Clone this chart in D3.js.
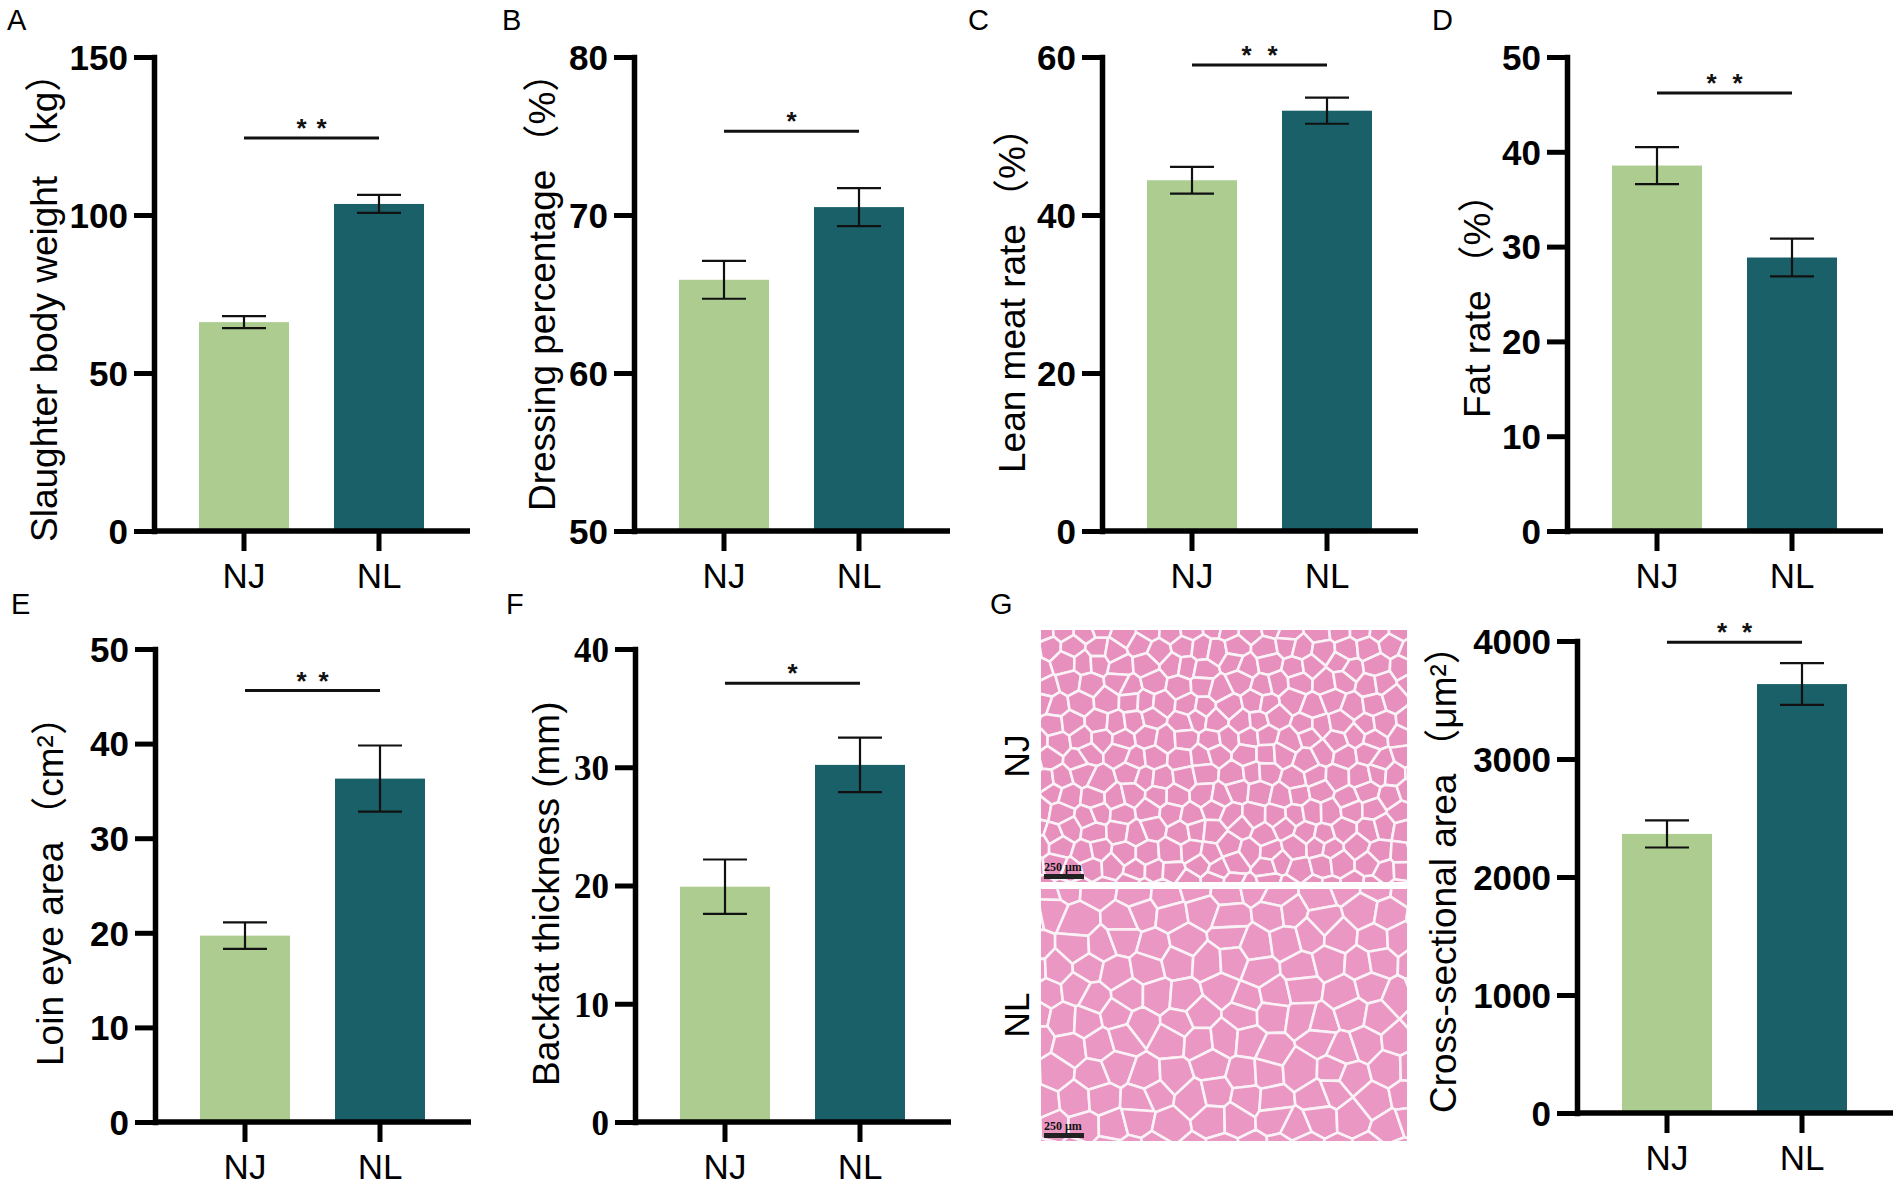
<!DOCTYPE html>
<html><head><meta charset="utf-8">
<script src="https://cdn.jsdelivr.net/npm/d3@7/dist/d3.min.js"></script>
<style>body{margin:0;background:#fff} svg{display:block}</style>
</head><body>
<svg id="fig" width="1902" height="1187"></svg>
<script>
// ---------------- data ----------------
const groups = ["NJ", "NL"];
const barColors = ["#ADCD90", "#1A6069"];

const slaughterMean = [66.1, 103.5], slaughterErr = [1.9, 2.85];
const dressingMean  = [65.9, 70.5],  dressingErr  = [1.2, 1.2];
const leanMean      = [44.4, 53.2],  leanErr      = [1.7, 1.65];
const fatMean       = [38.55, 28.85], fatErr      = [1.95, 2.0];
const loinMean      = [19.7, 36.3],  loinErr      = [1.4, 3.5];
const backfatMean   = [19.9, 30.2],  backfatErr   = [2.3, 2.3];
const csaMean       = [2365, 3635],  csaErr       = [115, 177];

const ticksA = [0, 50, 100, 150];
const ticksB = [50, 60, 70, 80];
const ticksC = [0, 20, 40, 60];
const ticksD = [0, 10, 20, 30, 40, 50];
const ticksE = [0, 10, 20, 30, 40, 50];
const ticksF = [0, 10, 20, 30, 40];
const ticksG = [0, 1000, 2000, 3000, 4000];

const sigLabels = ["**", "*", "**", "**", "**", "*", "**"];
const sigLevels = [124.4, 75.3, 59.0, 46.2, 45.6, 37.1, 3990];

const titleWords = [
  "Slaughter body weight",
  "Dressing percentage",
  "Lean meat rate",
  "Fat rate",
  "Loin eye area",
  "Backfat thickness (mm)",
  "Cross-sectional area"
];
const titleUnits = ["kg", "%", "%", "%", "cm²", null, "μm²"];

// ---------------- layout ----------------
const svg = d3.select("#fig");
const SANS = "'Liberation Sans', Arial, sans-serif";
const CJK = "'Noto Sans CJK JP', 'Noto Sans CJK SC', sans-serif";
const SERIF = "'Liberation Serif', 'Times New Roman', serif";

const panels = [
  {letter:"A", lx:7,   ly:30,  mean:slaughterMean, err:slaughterErr, domain:[0,150], ticks:ticksA, ax:154,  top:57,  bottom:531,  tx:57,   ts:542,  tickFont:SANS, gap:20},
  {letter:"B", lx:502, ly:30,  mean:dressingMean,  err:dressingErr,  domain:[50,80], ticks:ticksB, ax:634,  top:57,  bottom:531,  tx:555,  ts:511,  tickFont:SANS, gap:20},
  {letter:"C", lx:968, ly:30,  mean:leanMean,      err:leanErr,      domain:[0,60],  ticks:ticksC, ax:1102, top:57,  bottom:531,  tx:1025, ts:473,  tickFont:SANS, gap:26},
  {letter:"D", lx:1432,ly:30,  mean:fatMean,       err:fatErr,       domain:[0,50],  ticks:ticksD, ax:1567, top:57,  bottom:531,  tx:1490, ts:418,  tickFont:SANS, gap:26},
  {letter:"E", lx:11,  ly:614, mean:loinMean,      err:loinErr,      domain:[0,50],  ticks:ticksE, ax:155,  top:649, bottom:1122, tx:63,   ts:1066, tickFont:SANS, gap:22},
  {letter:"F", lx:506, ly:614, mean:backfatMean,   err:backfatErr,   domain:[0,40],  ticks:ticksF, ax:635,  top:649, bottom:1122, tx:559,  ts:1086, tickFont:SERIF, gap:20},
  {letter:null,lx:0,   ly:0,   mean:csaMean,       err:csaErr,       domain:[0,4000],ticks:ticksG, ax:1577, top:641, bottom:1113, tx:1456, ts:1113, tickFont:SANS, gap:25}
];

panels.forEach((p, k) => {
  const g = svg.append("g").attr("transform", `translate(${p.ax},0)`);
  const x = d3.scaleBand().domain(groups).range([22.5, 292.5]).paddingInner(1/3).paddingOuter(1/6);
  const y = d3.scaleLinear().domain(p.domain).range([p.bottom, p.top]);
  const bw = x.bandwidth();

  // bars
  g.selectAll("rect.bar").data(groups).join("rect")
    .attr("class", "bar")
    .attr("x", d => x(d)).attr("width", bw)
    .attr("y", (d, i) => y(p.mean[i]))
    .attr("height", (d, i) => y(p.domain[0]) - y(p.mean[i]))
    .attr("fill", (d, i) => barColors[i]);

  // error bars
  const eb = g.selectAll("g.err").data(groups).join("g").attr("class", "err")
    .attr("stroke", "#111").attr("stroke-width", 2.2);
  eb.append("line")
    .attr("x1", d => x(d) + bw/2).attr("x2", d => x(d) + bw/2)
    .attr("y1", (d, i) => y(p.mean[i] - p.err[i])).attr("y2", (d, i) => y(p.mean[i] + p.err[i]));
  eb.append("line")
    .attr("x1", d => x(d) + bw/2 - 22).attr("x2", d => x(d) + bw/2 + 22)
    .attr("y1", (d, i) => y(p.mean[i] + p.err[i])).attr("y2", (d, i) => y(p.mean[i] + p.err[i]));
  eb.append("line")
    .attr("x1", d => x(d) + bw/2 - 22).attr("x2", d => x(d) + bw/2 + 22)
    .attr("y1", (d, i) => y(p.mean[i] - p.err[i])).attr("y2", (d, i) => y(p.mean[i] - p.err[i]));

  // y axis
  const ya = g.append("g").call(
    d3.axisLeft(y).tickValues(p.ticks).tickSize(20).tickSizeOuter(0).tickPadding(6).tickFormat(d3.format("d")));
  ya.select(".domain").attr("stroke", "#000").attr("stroke-width", 5.5).attr("stroke-linecap", "square");
  ya.selectAll(".tick line").attr("stroke", "#000").attr("stroke-width", 5);
  ya.selectAll(".tick text").attr("fill", "#000").attr("font-family", p.tickFont)
    .attr("font-weight", "bold").attr("font-size", 35).attr("dy", "0.35em");

  // x axis
  const xa = g.append("g").attr("transform", `translate(0,${p.bottom})`)
    .call(d3.axisBottom(x).tickSize(20).tickPadding(12));
  xa.select(".domain").remove();
  xa.selectAll(".tick line").attr("stroke", "#000").attr("stroke-width", 5);
  xa.selectAll(".tick text").attr("fill", "#000").attr("font-family", SANS).attr("font-size", 35);
  g.append("line").attr("x1", 0).attr("x2", 316).attr("y1", p.bottom).attr("y2", p.bottom)
    .attr("stroke", "#000").attr("stroke-width", 5.5);

  // significance
  const sy = y(sigLevels[k]);
  const cx1 = x(groups[0]) + bw/2, cx2 = x(groups[1]) + bw/2;
  g.append("line").attr("x1", cx1).attr("x2", cx2).attr("y1", sy).attr("y2", sy)
    .attr("stroke", "#111").attr("stroke-width", 3);
  const n = sigLabels[k].length;
  const mid = (cx1 + cx2) / 2;
  d3.range(n).forEach(j => {
    g.append("text").attr("x", mid + (j - (n - 1) / 2) * p.gap).attr("y", sy - 1)
      .attr("text-anchor", "middle").attr("font-family", SANS).attr("font-weight", "bold")
      .attr("font-size", 26).attr("fill", "#111").text("*");
  });

  // title
  const t = svg.append("text")
    .attr("transform", `translate(${p.tx},${p.ts}) rotate(-90)`)
    .attr("text-anchor", "start").attr("font-family", SANS).attr("font-size", 37).attr("fill", "#000");
  t.append("tspan").text(titleWords[k]);
  if (titleUnits[k]) {
    t.append("tspan").attr("font-family", CJK).attr("dx", 8).text("（");
    t.append("tspan").attr("font-family", SANS).text(titleUnits[k]);
    t.append("tspan").attr("font-family", CJK).text("）");
  }

  if (p.letter) {
    svg.append("text").attr("x", p.lx).attr("y", p.ly).attr("font-family", SANS)
      .attr("font-size", 29).attr("fill", "#000").text(p.letter);
  }
});

// ---------------- panel G: histology placeholders ----------------
svg.append("text").attr("x", 990).attr("y", 614).attr("font-family", SANS)
  .attr("font-size", 29).attr("fill", "#000").text("G");

const histo = [
  {label:"NJ", x0:1041, y0:630, w:366, h:252, cell:21, seed:1.3, fill:"#E78FBD"},
  {label:"NL", x0:1041, y0:889, w:366, h:252, cell:30, seed:7.7, fill:"#EA98C3"}
];
const frac = v => v - Math.floor(v);
histo.forEach((hp, k) => {
  const g = svg.append("g");
  const cid = "clip" + k;
  svg.append("clipPath").attr("id", cid).append("rect")
    .attr("x", hp.x0).attr("y", hp.y0).attr("width", hp.w).attr("height", hp.h);
  g.attr("clip-path", `url(#${cid})`);
  g.append("rect").attr("x", hp.x0).attr("y", hp.y0).attr("width", hp.w).attr("height", hp.h).attr("fill", "#F6EEF2");
  const pts = [];
  for (let j = -1; j * hp.cell * 0.87 < hp.h + hp.cell; j++) {
    for (let i = -1; i * hp.cell < hp.w + hp.cell; i++) {
      const a = frac(Math.sin((i + 3) * 12.9898 + (j + 5) * 78.233 + hp.seed) * 43758.5453);
      const b = frac(Math.sin((i + 7) * 39.346 + (j + 2) * 11.135 + hp.seed) * 24634.6345);
      pts.push([hp.x0 + (i + (j & 1) * 0.5 + (a - 0.5) * 0.6) * hp.cell,
                hp.y0 + (j * 0.87 + (b - 0.5) * 0.5) * hp.cell]);
    }
  }
  const vor = d3.Delaunay.from(pts).voronoi([hp.x0 - 40, hp.y0 - 40, hp.x0 + hp.w + 40, hp.y0 + hp.h + 40]);
  g.selectAll("path.cell").data(pts).join("path").attr("class", "cell")
    .attr("d", (d, i) => vor.renderCell(i))
    .attr("fill", hp.fill).attr("stroke", "#FAF2F6").attr("stroke-width", 2.6).attr("stroke-linejoin", "round");
  // scale bar
  g.append("rect").attr("x", hp.x0 + 3).attr("y", hp.y0 + hp.h - 8).attr("width", 40).attr("height", 5).attr("fill", "#222");
  g.append("text").attr("x", hp.x0 + 3).attr("y", hp.y0 + hp.h - 11).attr("font-family", SERIF)
    .attr("font-weight", "bold").attr("font-size", 12).attr("fill", "#111").text("250 μm");
  // side label
  svg.append("text")
    .attr("transform", `translate(${hp.x0 - 12},${hp.y0 + hp.h / 2}) rotate(-90)`)
    .attr("text-anchor", "middle").attr("font-family", SANS).attr("font-size", 35).attr("fill", "#000")
    .text(hp.label);
});
</script>
</body></html>
